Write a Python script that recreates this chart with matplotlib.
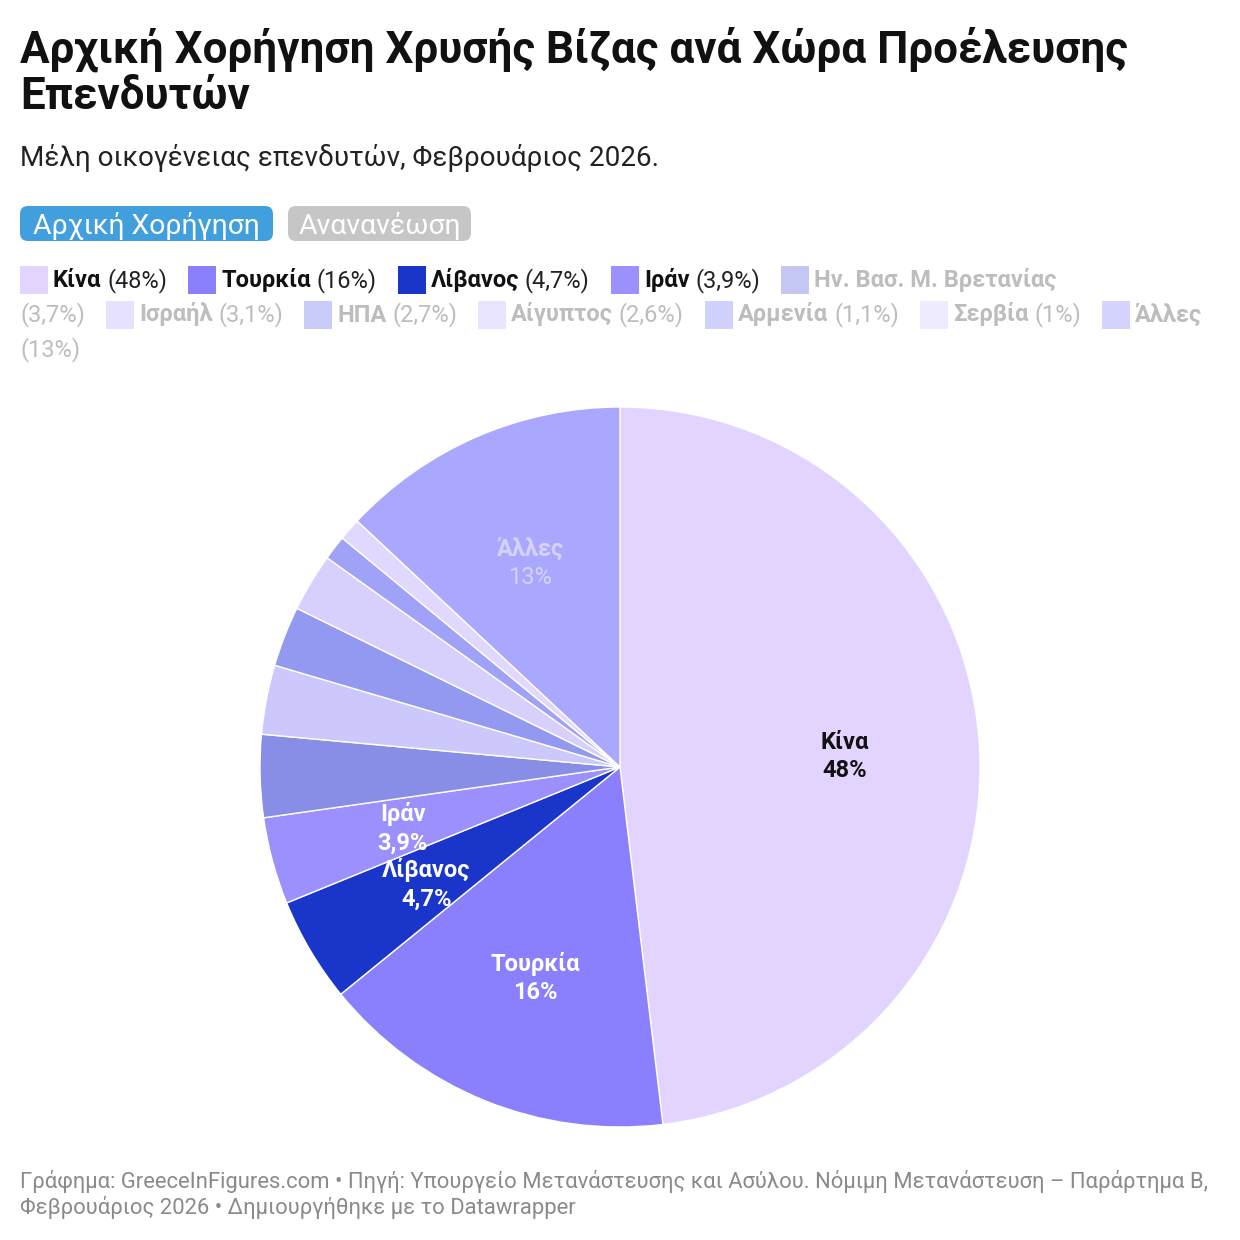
import matplotlib
matplotlib.use("Agg")
import matplotlib.pyplot as plt
import matplotlib.transforms as mtransforms
from matplotlib.patches import Rectangle, FancyBboxPatch
import numpy as np

plt.rcParams['font.family'] = ['Roboto', 'DejaVu Sans']

# data
countries = ["Κίνα", "Τουρκία", "Λίβανος", "Ιράν", "Ην. Βασ. Μ. Βρετανίας", "Ισραήλ",
             "ΗΠΑ", "Αίγυπτος", "Αρμενία", "Σερβία", "Άλλες"]
shares = [48, 16, 4.7, 3.9, 3.7, 3.1, 2.7, 2.6, 1.1, 1, 13]
share_labels = ["48%", "16%", "4,7%", "3,9%", "3,7%", "3,1%", "2,7%", "2,6%", "1,1%", "1%", "13%"]
highlighted = [True, True, True, True, False, False, False, False, False, False, False]
slice_colors = ["#e2d4fe", "#8a80fd", "#1a35c9", "#9b90fd", "#888ee6", "#cdc8fc",
                "#9398f0", "#d8d0fc", "#a0a2f8", "#e0d8fe", "#aaa8fe"]
legend_colors = ["#e2d4fe", "#8a80fd", "#1a35c9", "#9b90fd", "#c4c7f4", "#e6e1fe",
                 "#c9cbf8", "#e8e3fe", "#d0d1fc", "#efebfe", "#d4d3fe"]
slice_label_colors = {"Κίνα": "#111111", "Τουρκία": "white", "Λίβανος": "white",
                      "Ιράν": "white", "Άλλες": "#d6d2fb"}

title_lines = ["Αρχική Χορήγηση Χρυσής Βίζας ανά Χώρα Προέλευσης", "Επενδυτών"]
subtitle = "Μέλη οικογένειας επενδυτών, Φεβρουάριος 2026."
buttons = ["Αρχική Χορήγηση", "Ανανανέωση"]
footer_lines = ["Γράφημα: GreeceInFigures.com • Πηγή: Υπουργείο Μετανάστευσης και Ασύλου. Νόμιμη Μετανάστευση – Παράρτημα Β,",
                "Φεβρουάριος 2026 • Δημιουργήθηκε με το Datawrapper"]

W = H = 1240
fig = plt.figure(figsize=(W / 100, H / 100), dpi=100)
fig.patch.set_facecolor("white")
pix = mtransforms.Affine2D().scale(1 / W) + fig.transFigure


def put(x, y, s, **kw):
    # y measured from the top
    return fig.text(x, H - y, s, transform=pix, **kw)


for i, line in enumerate(title_lines):
    put(20, 62 + 47 * i, line, fontsize=31.7, fontweight="bold", color="#111111", va="baseline")
put(20, 166, subtitle, fontsize=20.1, color="#222222", va="baseline")

# buttons
btn_boxes = [(20, 206, 253, 35, "#419fdd"), (288, 206, 183, 35, "#c6c6c6")]
for (bx, by, bw, bh, bc), label in zip(btn_boxes, buttons):
    fig.patches.append(FancyBboxPatch((bx, H - by - bh), bw, bh, boxstyle="round,pad=0,rounding_size=8",
                                      transform=pix, facecolor=bc, edgecolor="none"))
    put(bx + bw / 2, by + 28, label, fontsize=20.4, color="white", ha="center", va="baseline")

# legend flow
renderer = fig.canvas.get_renderer()


def tw(s, **kw):
    t = put(0, 0, s, **kw)
    w = t.get_window_extent(renderer).width
    t.remove()
    return w


leg_fs = 17
space_w = tw("a a", fontsize=leg_fs) - tw("aa", fontsize=leg_fs)
forced_breaks = {"Ην. Βασ. Μ. Βρετανίας", "Άλλες"}
x, row = 20, 0
y0, row_h = 287, 34.5
for name, lab, col, hi in zip(countries, share_labels, legend_colors, highlighted):
    name_col = "#111111" if hi else "#bdbdbd"
    pct_col = "#222222" if hi else "#bdbdbd"
    name_w = tw(name, fontsize=leg_fs, fontweight="bold")
    pct = "(" + lab + ")"
    pct_w = tw(pct, fontsize=leg_fs)
    if x + 34 + name_w > 1225:
        x, row = 20, row + 1
    yb = y0 + row * row_h
    fig.patches.append(Rectangle((x, H - (yb - 21) - 28), 28, 28, transform=pix,
                                 facecolor=col, edgecolor="none"))
    put(x + 33, yb, name, fontsize=leg_fs, fontweight="bold", color=name_col, va="baseline")
    x = x + 33 + name_w + space_w
    if name in forced_breaks or x + pct_w > 1225:
        x, row = 20, row + 1
        yb = y0 + row * row_h
    put(x, yb, pct, fontsize=leg_fs, color=pct_col, va="baseline")
    x = x + pct_w + 21

# pie
cx, cy, r = 620, 767, 360
ax = fig.add_axes([(cx - r) / W, (H - cy - r) / H, 2 * r / W, 2 * r / H])
wedges, _ = ax.pie(shares, colors=slice_colors, startangle=90, counterclock=False,
                   wedgeprops=dict(edgecolor="white", linewidth=1))
ax.set_xlim(-1, 1)
ax.set_ylim(-1, 1)
ax.set_aspect("equal")
ax.axis("off")

total = sum(shares)
cum = 0
for name, val, lab in zip(countries, shares, share_labels):
    mid = 90 - (cum + val / 2) / total * 360
    cum += val
    if name not in slice_label_colors:
        continue
    lx = 0.625 * np.cos(np.radians(mid))
    ly = 0.625 * np.sin(np.radians(mid)) - 0.008
    c = slice_label_colors[name]
    ax.text(lx, ly + 0.04, name, ha="center", va="center", fontsize=17, fontweight="bold", color=c)
    ax.text(lx, ly - 0.04, lab, ha="center", va="center", fontsize=17,
            fontweight="normal" if name == "Άλλες" else "bold", color=c)

for i, line in enumerate(footer_lines):
    put(20, 1188 + 26 * i, line, fontsize=15.85, color="#8a8a8a", va="baseline")

fig.savefig("out.png", dpi=100, facecolor="white")
